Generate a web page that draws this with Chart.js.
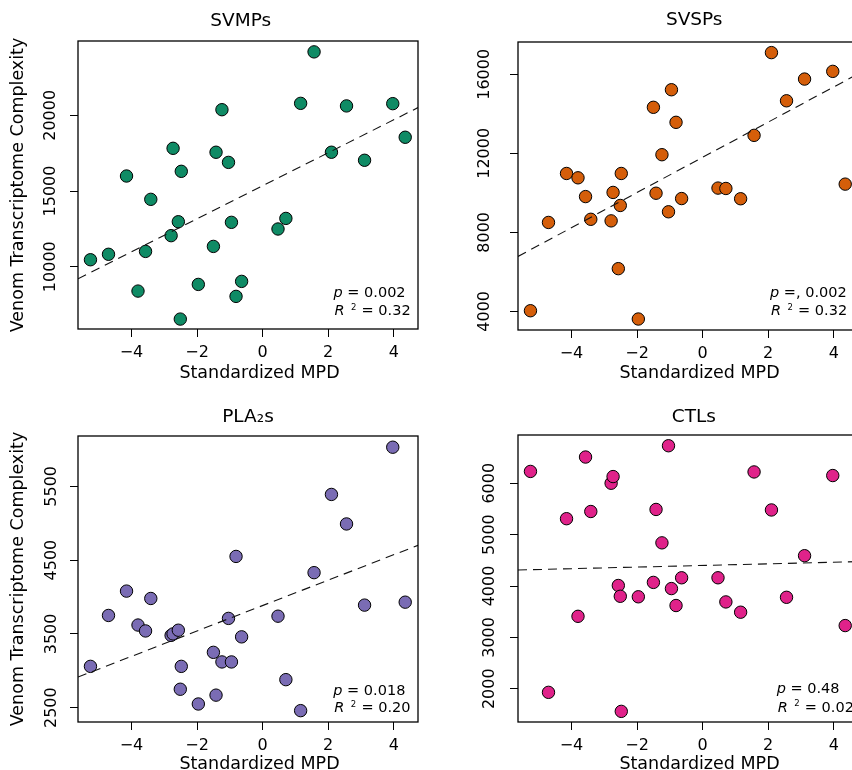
<!DOCTYPE html>
<html>
<head>
<meta charset="utf-8">
<script src="https://cdn.jsdelivr.net/npm/chart.js@4.4.1/dist/chart.umd.min.js"></script>
<style>
  html, body { margin: 0; padding: 0; background: #fff; overflow: hidden; width: 852px; height: 770px; }
  .panel { position: absolute; }
</style>
</head>
<body>
<canvas id="svmp" class="panel" width="440" height="390" style="left:0;top:0"></canvas>
<canvas id="svsp" class="panel" width="440" height="390" style="left:440px;top:0"></canvas>
<canvas id="pla2" class="panel" width="440" height="400" style="left:0;top:390px"></canvas>
<canvas id="ctl" class="panel" width="440" height="400" style="left:440px;top:390px"></canvas>
<script>
// standardized MPD, one value per species (shared by all four panels)
const mpd = [-5.25, -4.70, -4.15, -3.80, -3.57, -3.41, -2.79, -2.73, -2.57, -2.51, -2.48, -1.96, -1.50, -1.42,
             -1.24, -1.04, -0.95, -0.81, -0.64, 0.47, 0.71, 1.16, 1.57, 2.10, 2.56, 3.11, 3.97, 4.35];

// venom transcriptome complexity per toxin family
const svmpValues = [10460, 10820, 15990, 8390, 11010, 14450, 12050, 17820, 12970, 6540, 16300, 8830, 11340, 17560,
                    20370, 16890, 12930, 8040, 9030, 12490, 13190, 20790, 24190, 17560, 20620, 17030, 20770, 18550];
const svspValues = [4030, 8500, 10980, 10760, 9810, 8660, 8580, 10020, 6160, 9360, 10980, 3610, 14330, 9980,
                    11930, 9040, 15220, 13570, 9710, 10240, 10220, 9700, 12910, 17100, 14660, 15760, 16150, 10440];
const pla2Values = [3060, 3750, 4080, 3620, 3540, 3980, 3480, 3500, 3550, 2750, 3060, 2550, 3250, 2670,
                    3120, 3710, 3120, 4550, 3460, 3740, 2880, 2460, 4330, 5390, 4990, 3890, 6030, 3930];
const ctlValues = [6230, 1930, 5310, 3410, 6510, 5450, 6000, 6130, 4010, 3800, 1560, 3790, 4070, 5490,
                   4840, 6730, 3950, 3620, 4160, 4160, 3690, 3490, 6220, 5480, 3780, 4590, 6150, 3230];

// regression lines, read at the left and right edges of the plot box
const fitX = [-5.63, 4.74];
const svmpFit = [9200, 20510];
const svspFit = [6780, 16020];
const pla2Fit = [2915, 4700];
const ctlFit = [4311, 4475];

// tick labels
const xTicks = [-4, -2, 0, 2, 4];
const svmpTicks = [10000, 15000, 20000];
const svspTicks = [4000, 8000, 12000, 16000];
const pla2Ticks = [2500, 3500, 4500, 5500];
const ctlTicks = [2000, 3000, 4000, 5000, 6000];

// stats text
const pTexts = [' = 0.002', ' =, 0.002', ' = 0.018', ' = 0.48'];
const r2Texts = [' = 0.32', ' = 0.32', ' = 0.20', ' = 0.02'];

const FONT = "'DejaVu Sans', sans-serif";

// box, panel title, x axis title and p / R² text
const panelDecor = {
    id: 'panelDecor',
    afterDraw(chart, args, o) {
        const { ctx, chartArea: a } = chart;
        const cx = (a.left + a.right) / 2;
        ctx.save();
        ctx.strokeStyle = '#000';
        ctx.lineWidth = 1.3;
        ctx.strokeRect(a.left, a.top, a.right - a.left, a.bottom - a.top);

        ctx.fillStyle = '#000';
        ctx.textAlign = 'center';
        ctx.textBaseline = 'middle';
        ctx.font = '18.5px ' + FONT;
        ctx.fillText(o.title, cx + o.titleDx, o.titleY);
        ctx.font = '17.5px ' + FONT;
        ctx.fillText('Standardized MPD', cx + 11.5, a.bottom + o.xTitleDy);

        ctx.textAlign = 'left';
        const x0 = a.left + o.statX;
        const norm = '14.5px ' + FONT, ital = 'italic 14.5px ' + FONT;
        let py = a.bottom + o.pDy;
        ctx.font = ital;
        ctx.fillText('p', x0, py);
        const pw = ctx.measureText('p').width;
        ctx.font = norm;
        ctx.fillText(o.pText, x0 + pw, py);

        let ry = a.bottom + o.rDy;
        ctx.font = ital;
        ctx.fillText('R', x0 + 1, ry);
        ctx.font = '8.5px ' + FONT;
        ctx.fillText('2', x0 + 17.5, ry - 4);
        ctx.font = norm;
        ctx.fillText(o.rText, x0 + 23.5, ry);
        ctx.restore();
    }
};

function makePanel(id, o) {
    new Chart(document.getElementById(id), {
        type: 'scatter',
        data: {
            datasets: [{
                data: fitX.map((x, i) => ({ x: x, y: o.fit[i] })),
                showLine: true,
                borderColor: '#111',
                borderWidth: 1.1,
                borderDash: [9, 6],
                pointRadius: 0,
                order: 0
            }, {
                data: mpd.map((x, i) => ({ x: x, y: o.values[i] })),
                backgroundColor: o.color,
                borderColor: '#000',
                borderWidth: 1,
                pointRadius: 6.2,
                clip: false,
                order: 1
            }]
        },
        options: {
            responsive: false,
            animation: false,
            events: [],
            layout: { padding: o.pad },
            plugins: {
                legend: { display: false },
                tooltip: { enabled: false },
                panelDecor: {
                    title: o.title, titleDx: o.titleDx, titleY: o.titleY, xTitleDy: o.xTitleDy,
                    statX: o.statX, pDy: o.pDy, rDy: o.rDy,
                    pText: o.pText, rText: o.rText
                }
            },
            scales: {
                x: {
                    type: 'linear',
                    min: -5.63,
                    max: 4.74,
                    afterBuildTicks: s => { s.ticks = xTicks.map(v => ({ value: v })); },
                    afterFit: s => { s.height = o.xh; },
                    grid: { drawOnChartArea: false, tickLength: 8, color: '#000' },
                    border: { display: false },
                    ticks: {
                        color: '#000',
                        font: { family: FONT, size: 16 },
                        padding: 6.4,
                        autoSkip: false,
                        maxRotation: 0,
                        callback: v => String(v).replace('-', '\u2212')
                    },
                    title: { display: false }
                },
                y: {
                    min: o.yMin,
                    max: o.yMax,
                    afterBuildTicks: s => { s.ticks = o.yTicks.map(v => ({ value: v })); },
                    afterFit: s => { s.width = 78; },
                    grid: { drawOnChartArea: false, tickLength: 8, color: '#000' },
                    border: { display: false },
                    ticks: {
                        color: '#000',
                        font: { family: FONT, size: 16 },
                        minRotation: 90,
                        maxRotation: 90,
                        crossAlign: 'center',
                        padding: o.ytPad,
                        autoSkip: false,
                        callback: v => String(v)
                    },
                    title: {
                        display: o.yTitle,
                        text: 'Venom Transcriptome Complexity',
                        color: '#000',
                        font: { family: FONT, size: 17.5 },
                        padding: { top: 7.5, bottom: 0 }
                    }
                }
            }
        },
        plugins: [panelDecor]
    });
}

makePanel('svmp', {
    title: 'SVMPs', titleDx: -7.3, titleY: 20.7, xTitleDy: 44,
    values: svmpValues, fit: svmpFit, color: '#0F8B65',
    yMin: 5885, yMax: 24908, yTicks: svmpTicks, ytPad: -5.9, yTitle: true,
    pad: { left: 0, right: 22, top: 41, bottom: 1 }, xh: 60,
    statX: 255.5, pDy: -35.7, rDy: -17.3, pText: pTexts[0], rText: r2Texts[0]
});
makePanel('svsp', {
    title: 'SVSPs', titleDx: 6.2, titleY: 20, xTitleDy: 43.5,
    values: svspValues, fit: svspFit, color: '#D55E0A',
    yMin: 3054, yMax: 17637, yTicks: svspTicks, ytPad: -0.7, yTitle: false,
    pad: { left: 0, right: 22, top: 42, bottom: 1 }, xh: 59,
    statX: 252, pDy: -36.7, rDy: -18.3, pText: pTexts[1], rText: r2Texts[1]
});
makePanel('pla2', {
    title: 'PLA\u2082s', titleDx: 0, titleY: 27.5, xTitleDy: 42.5,
    values: pla2Values, fit: pla2Fit, color: '#7A6CB4',
    yMin: 2306, yMax: 6182, yTicks: pla2Ticks, ytPad: -1.75, yTitle: true,
    pad: { left: 0, right: 22, top: 46, bottom: 1 }, xh: 67,
    statX: 255.3, pDy: -30.7, rDy: -13.4, pText: pTexts[2], rText: r2Texts[2]
});
makePanel('ctl', {
    title: 'CTLs', titleDx: 5.8, titleY: 27.5, xTitleDy: 42.5,
    values: ctlValues, fit: ctlFit, color: '#E0228A',
    yMin: 1353, yMax: 6939, yTicks: ctlTicks, ytPad: -0.15, yTitle: false,
    pad: { left: 0, right: 22, top: 45, bottom: 1 }, xh: 67,
    statX: 258.7, pDy: -32.3, rDy: -14, pText: pTexts[3], rText: r2Texts[3]
});
</script>
</body>
</html>
